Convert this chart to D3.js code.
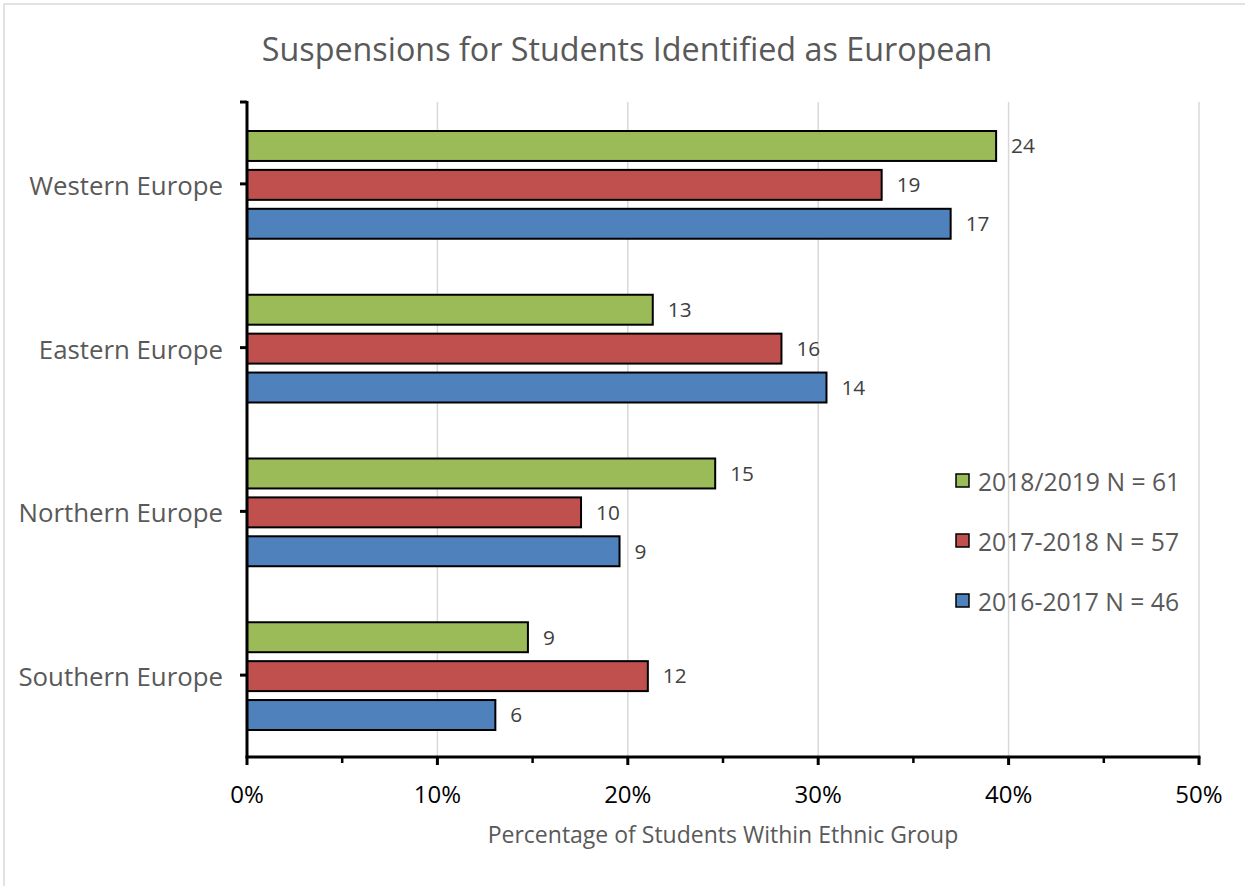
<!DOCTYPE html>
<html>
<head>
<meta charset="utf-8">
<script src="https://cdn.jsdelivr.net/npm/d3@7"></script>
<style>
  html, body { margin: 0; padding: 0; background: #fff; }
  svg { display: block; }
  text { font-family: "Open Sans", sans-serif; }
</style>
</head>
<body>
<svg id="chart" width="1245" height="886"></svg>
<script>
// Regions shown on the vertical axis, top to bottom
const regions = ["Western Europe", "Eastern Europe", "Northern Europe", "Southern Europe"];

// School years, in bar order within each region (top to bottom)
const years = ["2018/2019", "2017-2018", "2016-2017"];

// Total suspended European students per year
const totals = [61, 57, 46];

// Suspension counts per region, one array per year (same order as regions)
const counts2018_2019 = [24, 13, 15, 9];
const counts2017_2018 = [19, 16, 10, 12];
const counts2016_2017 = [17, 14, 9, 6];

const xTicks = [0, 0.1, 0.2, 0.3, 0.4, 0.5];
const xMinorTicks = [0.05, 0.15, 0.25, 0.35, 0.45];

const colors = ["#9BBB59", "#C0504D", "#4F81BD"];

const countsByYear = [counts2018_2019, counts2017_2018, counts2016_2017];
const rows = [];
regions.forEach((r, i) => {
  years.forEach((y, j) => {
    rows.push({ region: r, year: y, count: countsByYear[j][i], share: countsByYear[j][i] / totals[j], color: colors[j] });
  });
});

const svg = d3.select("#chart");

// outer frame
svg.append("rect")
  .attr("x", 4).attr("y", 4).attr("width", 1300).attr("height", 950)
  .attr("fill", "none").attr("stroke", "#D9D9D9").attr("stroke-width", 1.5);

const plot = { left: 247, right: 1199, top: 102, bottom: 757 };

const x = d3.scaleLinear().domain([0, 0.5]).range([plot.left, plot.right]);
const y = d3.scaleBand().domain(regions).range([plot.top, plot.bottom]).padding(0);
const yInner = d3.scaleBand().domain(years).range([0, y.bandwidth()])
  .paddingInner(0.23).paddingOuter(0.72);

// title
svg.append("text")
  .attr("x", 627).attr("y", 61)
  .attr("text-anchor", "middle")
  .attr("font-size", 32.3)
  .attr("fill", "#595959")
  .text("Suspensions for Students Identified as European");

// vertical gridlines
svg.append("g").selectAll("line")
  .data(xTicks.filter(t => t > 0))
  .join("line")
  .attr("x1", d => x(d)).attr("x2", d => x(d))
  .attr("y1", plot.top).attr("y2", plot.bottom)
  .attr("stroke", "#D9D9D9").attr("stroke-width", 1.5);

// bars
svg.append("g").selectAll("rect")
  .data(rows)
  .join("rect")
  .attr("x", x(0))
  .attr("y", d => y(d.region) + yInner(d.year) + 1)
  .attr("width", d => x(d.share) - x(0))
  .attr("height", yInner.bandwidth())
  .attr("fill", d => d.color)
  .attr("stroke", "#000").attr("stroke-width", 2);

// count labels
svg.append("g").selectAll("text")
  .data(rows)
  .join("text")
  .attr("x", d => x(d.share) + 15)
  .attr("y", d => y(d.region) + yInner(d.year) + yInner.bandwidth() / 2 + 1)
  .attr("dy", "0.35em")
  .attr("font-size", 20.8)
  .attr("fill", "#404040")
  .text(d => d.count);

// x axis
const xAxis = svg.append("g").attr("transform", `translate(0,${plot.bottom})`);
xAxis.append("line")
  .attr("x1", plot.left - 1.5).attr("x2", plot.right + 1.5)
  .attr("stroke", "#000").attr("stroke-width", 3);
xAxis.selectAll("line.major")
  .data(xTicks).join("line").attr("class", "major")
  .attr("x1", d => x(d)).attr("x2", d => x(d))
  .attr("y1", 0).attr("y2", 8)
  .attr("stroke", "#000").attr("stroke-width", 3);
xAxis.selectAll("line.minor")
  .data(xMinorTicks).join("line").attr("class", "minor")
  .attr("x1", d => x(d)).attr("x2", d => x(d))
  .attr("y1", 0).attr("y2", 6)
  .attr("stroke", "#000").attr("stroke-width", 2.5);
xAxis.selectAll("text")
  .data(xTicks).join("text")
  .attr("x", d => x(d)).attr("y", 46)
  .attr("text-anchor", "middle")
  .attr("font-size", 24)
  .attr("fill", "#000")
  .text(d => d3.format(".0%")(d));

// x axis title
svg.append("text")
  .attr("x", (plot.left + plot.right) / 2).attr("y", 843)
  .attr("text-anchor", "middle")
  .attr("font-size", 23)
  .attr("fill", "#595959")
  .text("Percentage of Students Within Ethnic Group");

// y axis
const yAxis = svg.append("g").attr("transform", `translate(${plot.left},0)`);
yAxis.append("line")
  .attr("y1", plot.top - 1).attr("y2", plot.bottom)
  .attr("stroke", "#000").attr("stroke-width", 3);
yAxis.selectAll("line.tick")
  .data([plot.top].concat(regions.map(r => y(r) + y.bandwidth() / 2)))
  .join("line").attr("class", "tick")
  .attr("x1", -7).attr("x2", 0)
  .attr("y1", d => d).attr("y2", d => d)
  .attr("stroke", "#000").attr("stroke-width", 3);
yAxis.selectAll("text")
  .data(regions).join("text")
  .attr("x", -24)
  .attr("y", r => y(r) + y.bandwidth() / 2 + 2)
  .attr("dy", "0.35em")
  .attr("text-anchor", "end")
  .attr("font-size", 25.8)
  .attr("fill", "#595959")
  .text(d => d);

// legend
const legend = svg.append("g");
years.forEach((yr, j) => {
  const cy = 481 + j * 60;
  legend.append("rect")
    .attr("x", 956).attr("y", cy - 7).attr("width", 13).attr("height", 13)
    .attr("fill", colors[j]).attr("stroke", "#000").attr("stroke-width", 1.5);
  legend.append("text")
    .attr("x", 978).attr("y", cy + 1)
    .attr("dy", "0.35em")
    .attr("font-size", 24.7)
    .attr("fill", "#595959")
    .text(`${yr} N = ${totals[j]}`);
});
</script>
</body>
</html>
